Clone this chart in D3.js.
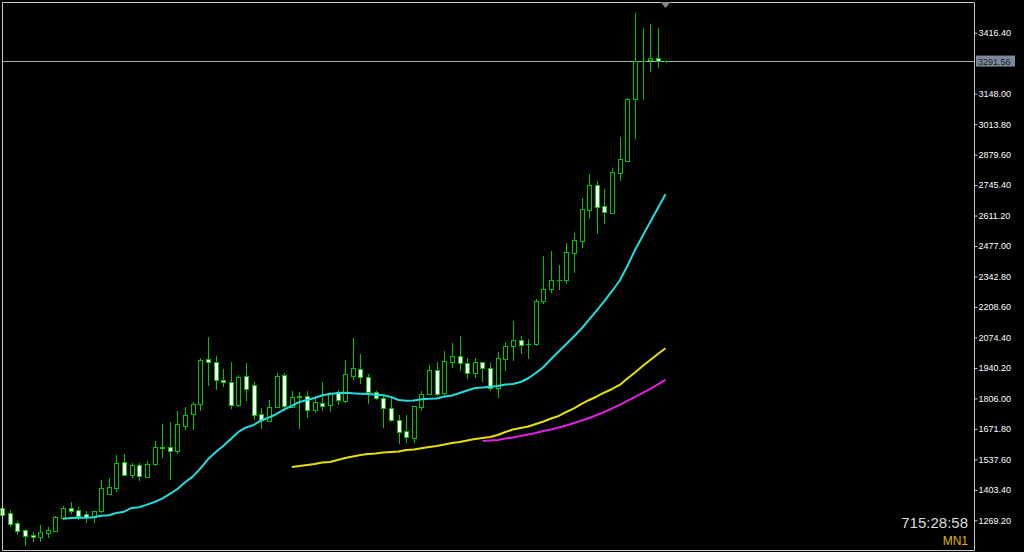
<!DOCTYPE html>
<html><head><meta charset="utf-8">
<script src="https://cdn.jsdelivr.net/npm/d3@7"></script>
<style>html,body{margin:0;padding:0;background:#000;overflow:hidden}</style>
</head><body>
<script>
// ---- data (monthly bars, oldest first) ----
const opens = [1323.5,1300.2,1256.2,1225.3,1206.0,1194.5,1214.8,1223.6,1279.5,1322.2,1313.4,1297.1,1283.9,1309.0,1386.5,1411.6,1527.4,1470.2,1514.2,1461.4,1516.0,1589.0,1593.4,1574.5,1684.6,1736.1,1781.5,1978.3,1966.4,1887.1,1879.6,1777.1,1904.8,1863.8,1737.4,1707.9,1769.6,1907.8,1768.3,1812.3,1815.4,1755.0,1787.2,1777.1,1834.3,1796.0,1906.1,1936.9,1900.3,1835.6,1809.2,1765.1,1711.0,1661.3,1633.1,1769.6,1826.9,1929.9,1828.6,1967.8,1991.5,1963.3,1919.3,1966.4,1941.3,1850.6,1979.6,2036.9,2062.0,2044.4,2045.7,2236.3,2289.2,2326.2,2326.2,2447.7,2497.9,2635.7,2747.1,2653.3,2623.8,2800.0,2852.8,3123.1,3290.5,3296.2,3303.7,3291.0];
const highs = [1332.3,1314.7,1267.6,1231.1,1217.8,1248.7,1238.5,1289.6,1332.3,1349.9,1327.9,1311.6,1311.0,1446.8,1456.9,1556.9,1561.3,1523.0,1523.0,1530.5,1617.2,1692.1,1703.5,1750.6,1768.3,1789.0,1985.3,2077.8,1992.8,1934.3,1967.7,1909.1,1963.3,1877.0,1762.5,1799.1,1916.6,1919.3,1837.4,1835.6,1838.7,1816.7,1879.6,1834.3,1843.1,1975.2,2073.4,2001.6,1913.6,1838.7,1821.1,1806.6,1733.1,1733.1,1773.0,1838.7,1951.9,1965.1,2014.9,2051.4,2080.9,1985.3,1985.3,1968.0,1960.7,2009.2,2054.5,2147.0,2080.9,2066.4,2242.5,2433.2,2456.5,2392.2,2489.1,2533.1,2689.9,2794.2,2763.4,2726.9,2819.3,2955.8,3127.5,3501.8,3438.4,3454.7,3438.4,3296.2];
const lows = [1283.9,1244.3,1209.0,1160.6,1179.5,1179.5,1197.2,1220.9,1277.0,1300.2,1275.1,1263.2,1263.2,1307.0,1384.0,1399.7,1468.0,1458.7,1446.8,1459.0,1513.0,1546.8,1451.2,1567.0,1672.7,1672.7,1755.0,1865.1,1847.5,1860.7,1765.1,1774.0,1799.1,1716.7,1675.8,1705.0,1766.9,1755.0,1766.9,1674.5,1722.9,1746.2,1755.0,1752.0,1781.5,1791.6,1890.3,1872.6,1784.6,1805.0,1678.9,1707.0,1611.1,1615.5,1615.5,1755.0,1824.0,1819.8,1811.0,1945.7,1931.2,1894.7,1899.0,1884.1,1843.0,1811.0,1931.2,1975.2,2004.8,1982.7,2043.0,2227.5,2276.0,2287.9,2315.6,2364.1,2471.5,2601.8,2535.7,2579.8,2621.0,2767.8,2850.0,2954.1,3123.1,3247.8,3266.7,3286.1];
const closes = [1292.7,1251.8,1223.6,1201.6,1194.5,1216.5,1226.7,1285.2,1322.2,1311.6,1289.6,1283.9,1309.0,1411.6,1414.7,1523.0,1470.2,1514.2,1464.4,1518.6,1590.8,1593.4,1575.8,1692.1,1731.7,1782.8,1975.2,1966.4,1885.8,1877.0,1775.7,1899.0,1848.8,1734.3,1711.0,1769.6,1906.1,1772.6,1813.6,1816.7,1756.4,1789.0,1774.0,1829.9,1799.1,1913.6,1938.7,1899.0,1834.3,1806.6,1765.1,1709.7,1659.5,1634.9,1771.4,1824.2,1929.9,1826.9,1970.9,1991.5,1960.7,1919.3,1966.4,1941.3,1850.6,1982.7,2038.2,2063.3,2041.3,2047.0,2236.3,2286.5,2327.5,2328.8,2449.5,2503.6,2638.8,2747.1,2650.2,2625.6,2801.7,2859.0,3124.4,3291.8,3293.1,3302.8,3291.8,3291.56];

// moving averages (first bar index given separately)
const maCyanStart = 8;
const maCyan = [1276.4,1279.5,1280.8,1280.8,1282.6,1289.6,1291.4,1301.5,1307.2,1323.5,1326.6,1338.0,1349.9,1364.5,1385.2,1407.2,1436.7,1461.4,1496.6,1538.0,1568.8,1596.5,1627.4,1658.2,1678.0,1689.0,1708.8,1722.0,1737.4,1757.3,1772.6,1790.3,1799.1,1807.9,1819.8,1825.5,1829.9,1831.2,1828.6,1826.9,1825.5,1822.4,1819.8,1812.3,1799.1,1796.0,1796.9,1802.2,1804.8,1805.7,1814.5,1818.9,1829.9,1840.9,1851.9,1854.1,1857.2,1860.7,1867.3,1869.5,1878.3,1894.7,1918.0,1944.4,1979.6,2012.6,2045.7,2078.7,2113.9,2153.6,2193.2,2235.0,2279.1,2325.3,2389.1,2459.6,2521.3,2582.9,2644.5,2704.9];
const maYellowStart = 38;
const maYellow = [1504.1,1508.5,1512.9,1517.3,1523.9,1526.1,1534.9,1543.7,1550.3,1556.9,1561.3,1563.5,1567.9,1570.1,1572.3,1578.9,1581.1,1586.4,1592.1,1596.5,1603.1,1609.7,1614.1,1620.7,1627.4,1631.7,1636.1,1644.9,1658.2,1669.2,1675.8,1682.4,1693.4,1704.4,1717.6,1728.6,1746.2,1761.7,1781.5,1799.1,1814.5,1832.1,1847.5,1865.1,1893.8,1920.2,1948.8,1975.2,2001.6,2026.7];
const maMagentaStart = 63;
const maMagenta = [1618.5,1620.7,1622.9,1629.5,1634.0,1640.6,1647.2,1653.8,1662.6,1669.2,1678.0,1686.8,1697.8,1708.8,1719.8,1733.1,1746.2,1761.7,1777.1,1794.7,1812.3,1829.9,1847.5,1867.3,1887.1];

const tickValues = [3416.40,3148.00,3013.80,2879.60,2745.40,2611.20,2477.00,2342.80,2208.60,2074.40,1940.20,1806.00,1671.80,1537.60,1403.40,1269.20];
const currentPrice = 3291.56;
const timerText = "715:28:58";
const periodText = "MN1";

// ---- drawing ----
const W = 1024, H = 552;
const svg = d3.select("body").append("svg").attr("width", W).attr("height", H)
  .style("display","block").style("background","#000");

const x = d3.scaleLinear().domain([0, closes.length - 1]).range([2, 665.5]);
const y = d3.scaleLinear().domain([1269.2, 3416.4]).range([520.3, 32.7]);

const GREEN = "#00c400";

// current price line
svg.append("line").attr("x1", 2).attr("x2", 974)
  .attr("y1", Math.round(y(currentPrice)) + 0.5).attr("y2", Math.round(y(currentPrice)) + 0.5)
  .attr("stroke", "#a4acb4").attr("stroke-width", 1);

// candles
const bars = d3.range(closes.length).map(i => ({i, o: opens[i], h: highs[i], l: lows[i], c: closes[i]}));
const g = svg.append("g");
g.selectAll("line.wick").data(bars).join("line").attr("class","wick")
  .attr("x1", d => Math.round(x(d.i)) + 0.5).attr("x2", d => Math.round(x(d.i)) + 0.5)
  .attr("y1", d => Math.round(y(d.h))).attr("y2", d => Math.round(y(d.l)) + 1)
  .attr("stroke", GREEN).attr("stroke-width", 1);
g.selectAll("rect.body").data(bars).join("rect").attr("class","body")
  .attr("x", d => Math.round(x(d.i)) - 2 + 0.5)
  .attr("width", 4)
  .attr("y", d => Math.round(y(Math.max(d.o, d.c))) + 0.5)
  .attr("height", d => Math.max(0.01, Math.round(y(Math.min(d.o, d.c))) - Math.round(y(Math.max(d.o, d.c)))))
  .attr("fill", d => d.c >= d.o ? "#000" : "#fff")
  .attr("stroke", GREEN).attr("stroke-width", 1);

// moving averages
function drawMA(vals, start, color) {
  const line = d3.line().x((d, k) => x(start + k)).y(d => y(d));
  svg.append("path").attr("d", line(vals)).attr("fill", "none")
    .attr("stroke", color).attr("stroke-width", 2).attr("stroke-linejoin", "round");
}
drawMA(maCyan, maCyanStart, "#22dde0");
drawMA(maYellow, maYellowStart, "#e6e000");
drawMA(maMagenta, maMagentaStart, "#e020e0");

// frame
svg.append("path").attr("d", "M2.5,550.5 L2.5,2.5 L974.5,2.5 L974.5,550.5 Z")
  .attr("fill", "none").attr("stroke", "#c8c8c8").attr("stroke-width", 1);

// chart shift triangle
svg.append("path").attr("d", `M${x(closes.length-1)-5},2 L${x(closes.length-1)+5},2 L${x(closes.length-1)},8 Z`)
  .attr("fill", "#8a8a8a");

// price axis
const axis = d3.axisRight(y).tickValues(tickValues).tickSize(3).tickPadding(1)
  .tickFormat(d3.format(".2f"));
const ag = svg.append("g").attr("transform", "translate(974.5,0)").call(axis);
ag.select(".domain").remove();
ag.selectAll(".tick line").attr("stroke", "#c8c8c8");
ag.selectAll(".tick text").attr("fill", "#ffffff")
  .style("font-family", "'Liberation Sans', Arial, sans-serif").style("font-size", "9px");

// current price label
const py = y(currentPrice);
svg.append("rect").attr("x", 976).attr("y", py - 5.5).attr("width", 39).attr("height", 11)
  .attr("fill", "#7a8a9c");
svg.append("text").attr("x", 978).attr("y", py + 3.5).text(d3.format(".2f")(currentPrice))
  .attr("fill", "#1c1c1c").style("font-family", "'Liberation Sans', Arial, sans-serif").style("font-size", "9px");

// timer and period
svg.append("text").attr("x", 968).attr("y", 528).attr("text-anchor", "end").text(timerText)
  .attr("fill", "#dcdcdc").style("font-family", "'Liberation Sans', Arial, sans-serif").style("font-size", "15px");
svg.append("text").attr("x", 968).attr("y", 545).attr("text-anchor", "end").text(periodText)
  .attr("fill", "#e0b800").style("font-family", "'Liberation Sans', Arial, sans-serif").style("font-size", "12px");
</script>
</body></html>
